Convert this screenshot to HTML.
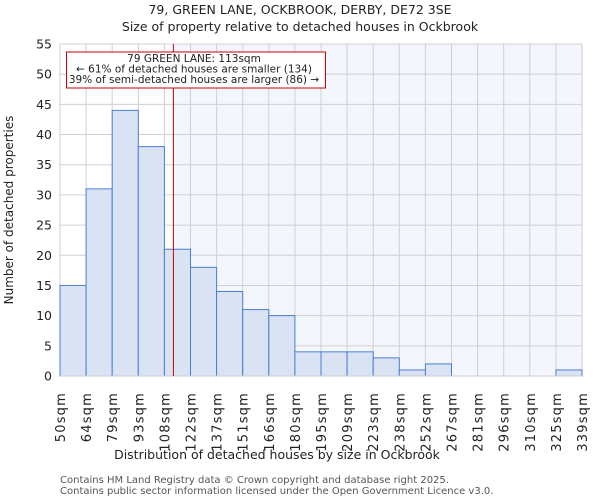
<!DOCTYPE html>
<html><head><meta charset="utf-8"><style>
body{margin:0;background:#fff;font-family:"DejaVu Sans","Liberation Sans",sans-serif;}
svg text{font-family:"DejaVu Sans","Liberation Sans",sans-serif;fill:#222;}
</style></head><body>
<svg id="chart" width="600" height="500" xmlns="http://www.w3.org/2000/svg">
<text x="300" y="14" font-size="12.5" text-anchor="middle">79, GREEN LANE, OCKBROOK, DERBY, DE72 3SE</text>
<text x="300" y="31" font-size="12.5" text-anchor="middle">Size of property relative to detached houses in Ockbrook</text>
<g id="plot"></g>
<text x="277" y="459" font-size="12.5" text-anchor="middle">Distribution of detached houses by size in Ockbrook</text>
<text transform="translate(13,210) rotate(-90)" font-size="12" text-anchor="middle">Number of detached properties</text>
<text x="60" y="483" font-size="10" style="fill:#555">Contains HM Land Registry data © Crown copyright and database right 2025.</text>
<text x="60" y="494" font-size="10" style="fill:#555">Contains public sector information licensed under the Open Government Licence v3.0.</text>
</svg>
<script>
const categories=["50sqm","64sqm","79sqm","93sqm","108sqm","122sqm","137sqm","151sqm","166sqm","180sqm","195sqm","209sqm","223sqm","238sqm","252sqm","267sqm","281sqm","296sqm","310sqm","325sqm","339sqm"];
const binEdges=[50,64.5,79,93.5,108,122.5,137,151.5,166,180.5,195,209.5,224,238.5,253,267.5,282,296.5,311,325.5,340];
const counts=[15,31,44,38,21,18,14,11,10,4,4,4,3,1,2,0,0,0,0,1];
const yTicks=[0,5,10,15,20,25,30,35,40,45,50,55];
const subjectSize=113;
const NS="http://www.w3.org/2000/svg";
const L=60,R=582,T=44,B=376,yMax=55;
const xs=v=>L+(v-binEdges[0])/(binEdges[binEdges.length-1]-binEdges[0])*(R-L);
const xi=i=>L+i*(R-L)/counts.length;
const ys=v=>B-v/yMax*(B-T);
const g=document.getElementById('plot');
function mk(t,a){const e=document.createElementNS(NS,t);for(const k in a)e.setAttribute(k,a[k]);g.appendChild(e);return e;}
const sx=xs(subjectSize);
let e=mk('rect',{x:L,y:T,width:R-L,height:B-T,fill:'#fff'});


e=mk('rect',{x:sx,y:T,width:R-sx,height:B-T,fill:'#f4f6fd'});


yTicks.forEach(t=>{
 e=mk('line',{x1:L,x2:R,y1:ys(t),y2:ys(t),stroke:'#d0d0d0','stroke-width':1});
 
 
 e=mk('text',{x:L-8,y:ys(t)+4.5,'font-size':12.5,'text-anchor':'end'});e.textContent=t;
 
 
});
categories.forEach((c,i)=>{
 const x=xi(i);
 e=mk('line',{x1:x,x2:x,y1:T,y2:B,stroke:'#d0d0d0','stroke-width':1});
 
 
 e=mk('text',{transform:`translate(${x+5},392) rotate(-90)`,'font-size':13,'letter-spacing':'1.2','text-anchor':'end'});e.textContent=c;
 
 
});
counts.forEach((v,i)=>{
 e=mk('rect',{x:xi(i),y:ys(v),width:xi(i+1)-xi(i),height:B-ys(v),fill:'#dae3f3',stroke:'#4a7fd0','stroke-width':1});
 
 
});
e=mk('line',{x1:L,x2:R,y1:B,y2:B,stroke:'#ccc'});


e=mk('line',{x1:sx,x2:sx,y1:T,y2:B,stroke:'#c00','stroke-width':1});


e=mk('rect',{x:66.5,y:52,width:259,height:36,fill:'#fff',stroke:'#c00','stroke-width':1});


["79 GREEN LANE: 113sqm","← 61% of detached houses are smaller (134)","39% of semi-detached houses are larger (86) →"].forEach((s,i)=>{
 e=mk('text',{x:194,y:62+i*10.5,'font-size':10.5,'text-anchor':'middle'});e.textContent=s;
 
 
});
</script>
</body></html>
